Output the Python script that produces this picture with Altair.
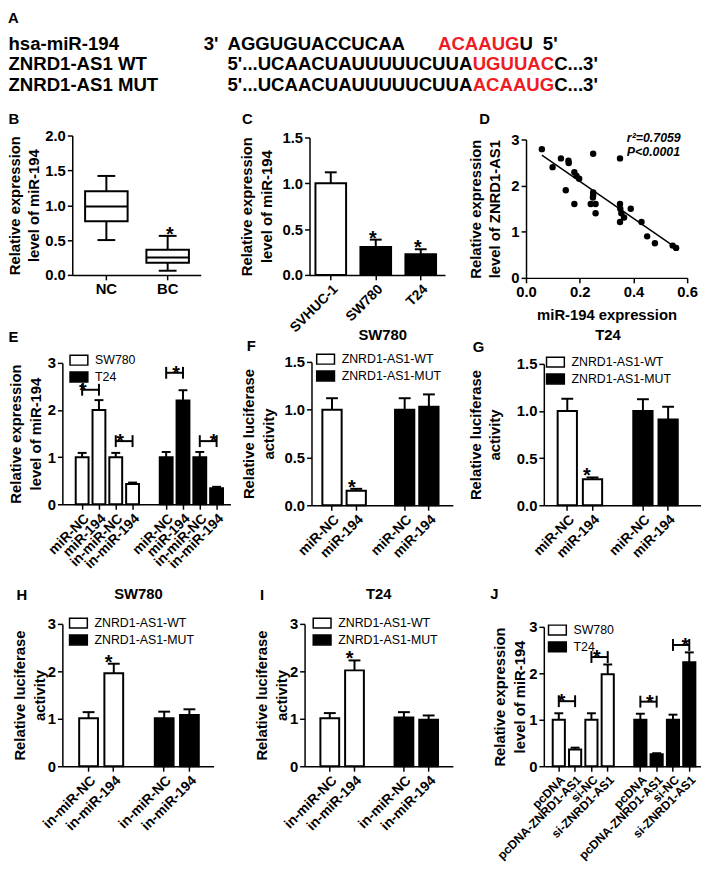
import altair as alt
import pandas as pd

# ---------------- values ----------------
# Panel A: sequences
A_names = ["hsa-miR-194", "ZNRD1-AS1 WT", "ZNRD1-AS1 MUT"]
A_mir = ["3'", "AGGUGUACCUCAA", "ACAAUG", "U", "5'"]
A_wt = ["5'...UCAACUAUUUUUCUUA", "UGUUAC", "C...3'"]
A_mut = ["5'...UCAACUAUUUUUCUUA", "ACAAUG", "C...3'"]

# Panel B: box plot summary
B_groups = ["NC", "BC"]
B_min = [0.50, 0.06]
B_q1 = [0.77, 0.175]
B_median = [0.98, 0.25]
B_q3 = [1.20, 0.36]
B_max = [1.42, 0.56]
B_sig = ["BC"]

# Panel C
C_cells = ["SVHUC-1", "SW780", "T24"]
C_kind = ["normal", "cancer", "cancer"]
C_mean = [1.00, 0.305, 0.227]
C_upper = [1.12, 0.385, 0.280]
C_sig = ["SW780", "T24"]

# Panel D
D_mir = [0.059, 0.099, 0.130, 0.158, 0.159, 0.148, 0.180, 0.188, 0.198, 0.180,
         0.250, 0.250, 0.250, 0.249, 0.241, 0.259, 0.259, 0.350, 0.350, 0.351,
         0.355, 0.365, 0.350, 0.390, 0.430, 0.451, 0.480, 0.546, 0.559]
D_znrd = [2.79, 2.40, 2.59, 2.54, 2.49, 1.90, 2.29, 2.21, 2.15, 1.60,
          2.69, 1.85, 1.79, 1.74, 1.60, 1.60, 1.40, 2.59, 1.60, 1.50,
          1.40, 1.31, 1.21, 1.50, 1.21, 0.90, 0.75, 0.70, 0.65]
D_stats = ["r\u00b2=0.7059", "P<0.0001"]

# Panel E
E_line = ["SW780"] * 4 + ["T24"] * 4
E_treat = ["miR-NC", "miR-194", "in-miR-NC", "in-miR-194"] * 2
E_mean = [1.00, 2.00, 1.00, 0.43, 1.00, 2.20, 1.00, 0.34]
E_upper = [1.09, 2.21, 1.09, 0.46, 1.11, 2.42, 1.11, 0.37]
E_br_from = [0, 2, 4, 6]
E_br_to = [1, 3, 5, 7]
E_br_y = [2.43, 1.34, 2.79, 1.34]

# Panels F-I (luciferase)
LUC_rep = ["ZNRD1-AS1-WT"] * 2 + ["ZNRD1-AS1-MUT"] * 2
FG_treat = ["miR-NC", "miR-194"] * 2
F_mean = [1.00, 0.152, 1.00, 1.03]
F_upper = [1.12, 0.172, 1.12, 1.16]
G_mean = [1.00, 0.277, 1.00, 0.91]
G_upper = [1.13, 0.295, 1.125, 1.045]
HI_treat = ["in-miR-NC", "in-miR-194"] * 2
H_mean = [1.01, 1.96, 1.01, 1.08]
H_upper = [1.14, 2.16, 1.15, 1.20]
I_mean = [1.01, 2.02, 1.03, 0.98]
I_upper = [1.12, 2.23, 1.14, 1.07]
LUC_sig = [1]

# Panel J
J_line = ["SW780"] * 4 + ["T24"] * 4
J_treat = ["pcDNA", "pcDNA-ZNRD1-AS1", "si-NC", "si-ZNRD1-AS1"] * 2
J_mean = [1.00, 0.36, 1.00, 1.98, 1.00, 0.26, 1.00, 2.24]
J_upper = [1.14, 0.40, 1.14, 2.19, 1.13, 0.28, 1.11, 2.45]
J_br_from = [0, 2, 4, 6]
J_br_to = [1, 3, 5, 7]
J_br_y = [1.40, 2.35, 1.39, 2.61]

# ---------------- layout helpers ----------------
FONT = "Liberation Sans"
CW, CH = 701, 865
SHIFT_X, SHIFT_Y = 5, 5
RECT = "M-1.8,-1H1.8V1H-1.8Z"


def X(v):
    return v - SHIFT_X


def Y(v):
    return v - SHIFT_Y


def band_scale(domain, x0, x1, step, bw, lead):
    W = x1 - x0
    n = len(domain)
    pi = 1 - bw / step
    total = step * (n - pi)
    space = W - total
    return alt.Scale(domain=domain, range=[X(x0), X(x1)], paddingInner=round(pi, 4),
                     paddingOuter=round(space / (2 * step), 4), align=round(lead / space, 4))


def lin_y(ymax, ytop, ybot):
    return alt.Scale(domain=[0, ymax], range=[Y(ybot), Y(ytop)], nice=False, zero=False)


def left_axis(x0, vals, fmt, title, tp):
    return alt.Axis(orient="left", offset=-X(x0), values=vals, format=fmt, title=title,
                    titlePadding=tp)


def bottom_axis(ybot, **kw):
    return alt.Axis(orient="bottom", offset=Y(ybot) - CH, **kw)


def label(text, x, y, size=15, weight="bold", color="black", align="center", style="normal"):
    return alt.Chart(pd.DataFrame({"t": [text]})).mark_text(
        font=FONT, fontSize=size, fontWeight=weight, color=color, align=align,
        baseline="middle", fontStyle=style
    ).encode(text="t:N", x=alt.value(X(x)), y=alt.value(Y(y)))


def make_legend(cx, cy):
    return alt.Legend(orient="none", legendX=X(cx - 5), legendY=Y(cy - 6), title=None,
                      symbolType=RECT, symbolSize=100, symbolStrokeColor="black",
                      symbolStrokeWidth=1.5, symbolOpacity=1, labelFont=FONT, labelFontSize=12.5,
                      labelFontWeight="normal", labelOffset=10, rowPadding=0, padding=0)


layers = []

# ---------------- Panel A ----------------
layers.append(label("A", 10.5, 10))
row_y = [36, 57, 78]
for name, yy in zip(A_names, row_y):
    layers.append(label(name, 5.5, yy, size=18.8, align="left"))
mir_x = [203, 227, 440, 522.5, 546]
mir_col = ["black", "black", "#ee1c24", "black", "black"]
for t, xx, c in zip(A_mir, mir_x, mir_col):
    layers.append(label(t, xx, row_y[0], size=18.8, align="left", color=c))
seq_x = [227, 475, 557.5]
seq_col = ["black", "#ee1c24", "black"]
for seq, yy in ((A_wt, row_y[1]), (A_mut, row_y[2])):
    for t, xx, c in zip(seq, seq_x, seq_col):
        layers.append(label(t, xx, yy, size=18.8, align="left", color=c))

# ---------------- Panel B (box plot) ----------------
bx0, bx1, byt, byb = 70, 200, 129, 270
bdf = pd.DataFrame({"g": B_groups, "lo": B_min, "q1": B_q1, "med": B_median,
                    "q3": B_q3, "hi": B_max})
bxs = band_scale(B_groups, bx0, bx1, 62, 43, 13)
bys = lin_y(2.0, byt, byb)
bX = lambda ax=None: alt.X("g:N", scale=bxs, axis=ax)
bbase = alt.Chart(bdf)
layers += [
    bbase.mark_rule(color="black", strokeWidth=2).encode(
        x=bX(), y=alt.Y("lo:Q", scale=bys, axis=None), y2="q1:Q"),
    bbase.mark_rule(color="black", strokeWidth=2).encode(
        x=bX(), y=alt.Y("q3:Q", scale=bys, axis=None), y2="hi:Q"),
    bbase.mark_bar(fill="white", stroke="black", strokeWidth=2, opacity=1).encode(
        x=bX(bottom_axis(byb, title=None, labelAngle=0, labelFontSize=15)),
        y=alt.Y("q1:Q", scale=bys,
                axis=left_axis(bx0, [0, 0.5, 1.0, 1.5, 2.0], ".1f",
                               ["Relative expression", "level of miR-194"], 3)),
        y2="q3:Q"),
    bbase.mark_tick(color="black", thickness=2, size=43, opacity=1).encode(
        x=bX(), y=alt.Y("med:Q", scale=bys, axis=None)),
    bbase.mark_tick(color="black", thickness=2, size=18, opacity=1).encode(
        x=bX(), y=alt.Y("lo:Q", scale=bys, axis=None)),
    bbase.mark_tick(color="black", thickness=2, size=18, opacity=1).encode(
        x=bX(), y=alt.Y("hi:Q", scale=bys, axis=None)),
    alt.Chart(bdf[bdf.g.isin(B_sig)]).mark_text(
        text="*", font=FONT, fontSize=20, fontWeight="bold", baseline="alphabetic", dy=5,
        color="black").encode(x=bX(), y=alt.Y("hi:Q", scale=bys, axis=None)),
]
layers.append(label("B", 11, 112))


# ---------------- generic bar panel ----------------
def bar_panel(keys, fills, fill_dom, means, uppers, domain, box, band, yspec,
              legend=None, star_idx=(), brackets=None, split=True, label_size=14):
    x0, x1, ytop, ybot = box
    step, bw, lead, cap = band
    ymax, yvals, yfmt, ytitle, tp = yspec
    df = pd.DataFrame({"key": keys, "fill": fills, "mean": means, "upper": uppers})
    xs = band_scale(domain, x0, x1, step, bw, lead)
    ys = lin_y(ymax, ytop, ybot)
    ax_kw = dict(values=keys, title=None, labelAngle=-45, labelFontSize=label_size)
    if split:
        ax_kw["labelExpr"] = "split(datum.value, '|')[1]"
    out = []
    base = alt.Chart(df)
    out.append(base.mark_bar(stroke="black", strokeWidth=2, opacity=1).encode(
        x=alt.X("key:N", scale=xs, axis=bottom_axis(ybot, **ax_kw)),
        y=alt.Y("mean:Q", scale=ys, axis=left_axis(x0, yvals, yfmt, ytitle, tp)),
        fill=alt.Fill("fill:N", scale=alt.Scale(domain=fill_dom, range=["white", "black"]),
                      legend=legend)))
    out.append(base.mark_rule(color="black", strokeWidth=2).encode(
        x=alt.X("key:N", scale=xs, axis=None),
        y=alt.Y("mean:Q", scale=ys, axis=None), y2="upper:Q"))
    out.append(base.mark_tick(color="black", thickness=2, size=cap, opacity=1).encode(
        x=alt.X("key:N", scale=xs, axis=None),
        y=alt.Y("upper:Q", scale=ys, axis=None)))
    if len(star_idx):
        sdf = df.iloc[list(star_idx)]
        out.append(alt.Chart(sdf).mark_text(
            text="*", font=FONT, fontSize=20, fontWeight="bold", baseline="alphabetic",
            dy=5, color="black").encode(
            x=alt.X("key:N", scale=xs, axis=None),
            y=alt.Y("upper:Q", scale=ys, axis=None)))
    if brackets is not None:
        bf, bt, by = brackets
        brdf = pd.DataFrame({"k1": [keys[i] for i in bf], "k2": [keys[i] for i in bt], "y": by})
        bb = alt.Chart(brdf)
        out.append(bb.mark_rule(color="black", strokeWidth=2).encode(
            x=alt.X("k1:N", scale=xs, axis=None, bandPosition=0.5),
            x2=alt.X2("k2", bandPosition=0.5),
            y=alt.Y("y:Q", scale=ys, axis=None)))
        for k in ("k1", "k2"):
            out.append(bb.mark_tick(orient="vertical", color="black", thickness=2, size=12,
                                    opacity=1).encode(
                x=alt.X(k + ":N", scale=xs, axis=None),
                y=alt.Y("y:Q", scale=ys, axis=None)))
        out.append(bb.mark_text(text="*", font=FONT, fontSize=20, fontWeight="bold",
                                baseline="alphabetic", dy=7, dx=step / 2,
                                color="black").encode(
            x=alt.X("k1:N", scale=xs, axis=None),
            y=alt.Y("y:Q", scale=ys, axis=None)))
    return out


def with_gap(keys):
    h = len(keys) // 2
    return keys[:h] + ["gap"] + keys[h:]


# ---------------- Panel C ----------------
layers += bar_panel(C_cells, C_kind, ["normal", "cancer"], C_mean, C_upper, C_cells,
                    (310, 447, 131, 270), (45.5, 31, 6, 12),
                    (1.5, [0, 0.5, 1.0, 1.5], ".1f", ["Relative expression", "level of miR-194"], 7.6),
                    star_idx=[C_cells.index(c) for c in C_sig], split=False)
layers.append(label("C", 247, 112))

# ---------------- Panel D (scatter + regression) ----------------
ddf = pd.DataFrame({"mir": D_mir, "znrd": D_znrd})
dxs = alt.Scale(domain=[0, 0.6], range=[X(529), X(692)], nice=False, zero=False)
dys = lin_y(3, 133, 273)
layers += [
    alt.Chart(ddf).mark_circle(size=42, color="black", opacity=1).encode(
        x=alt.X("mir:Q", scale=dxs,
                axis=bottom_axis(273, values=[0, 0.2, 0.4, 0.6], format=".1f",
                                 title="miR-194 expression", titlePadding=8)),
        y=alt.Y("znrd:Q", scale=dys,
                axis=left_axis(529, [0, 1, 2, 3], "d",
                               ["Relative expression", "level of ZNRD1-AS1"], 8))),
    alt.Chart(ddf).transform_regression("mir", "znrd").mark_line(
        color="black", strokeWidth=1.5).encode(
        x=alt.X("mir:Q", scale=dxs, axis=None), y=alt.Y("znrd:Q", scale=dys, axis=None)),
]
layers.append(label(D_stats[0], 631, 132, size=12.5, align="left", style="italic"))
layers.append(label(D_stats[1], 631, 146, size=12.5, align="left", style="italic"))
layers.append(label("D", 487, 112))

# ---------------- Panel E ----------------
E_keys = [f"{a}|{b}" for a, b in zip(E_line, E_treat)]
layers += bar_panel(E_keys, E_line, ["SW780", "T24"], E_mean, E_upper, with_gap(E_keys),
                    (60, 230, 359, 502), (17, 13, 13.5, 9),
                    (3, [0, 1, 2, 3], "d", ["Relative expression", "level of miR-194"], 4),
                    legend=make_legend(75.5, 356),
                    brackets=(E_br_from, E_br_to, E_br_y))
layers.append(label("E", 10.5, 333))

# ---------------- Panels F, G ----------------
FG_keys = [f"{a}|{b}" for a, b in zip(LUC_rep, FG_treat)]
REP_DOM = ["ZNRD1-AS1-WT", "ZNRD1-AS1-MUT"]
layers += bar_panel(FG_keys, LUC_rep, REP_DOM, F_mean, F_upper, with_gap(FG_keys),
                    (312, 455, 358, 503), (24.5, 19.5, 11, 12),
                    (1.5, [0, 0.5, 1.0, 1.5], ".1f", ["Relative  luciferase", "activity"], 7.6),
                    legend=make_legend(325, 355), star_idx=LUC_sig)
layers.append(label("F", 251, 342))
layers.append(label("SW780", 384, 331))

layers += bar_panel(FG_keys, LUC_rep, REP_DOM, G_mean, G_upper, with_gap(FG_keys),
                    (547, 708, 360, 503), (25.5, 19.5, 14, 12),
                    (1.5, [0, 0.5, 1.0, 1.5], ".1f", ["Relative  luciferase", "activity"], 13.6),
                    legend=make_legend(557.5, 358), star_idx=LUC_sig)
layers.append(label("G", 481, 343))
layers.append(label("T24", 612, 331))

# ---------------- Panels H, I ----------------
HI_keys = [f"{a}|{b}" for a, b in zip(LUC_rep, HI_treat)]
layers += bar_panel(HI_keys, LUC_rep, REP_DOM, H_mean, H_upper, with_gap(HI_keys),
                    (60, 213, 623, 767), (25.5, 19, 17, 12),
                    (3, [0, 1, 2, 3], "d", ["Relative  luciferase", "activity"], 0),
                    legend=make_legend(75, 622), star_idx=LUC_sig)
layers.append(label("H", 19, 594))
layers.append(label("SW780", 137, 593))

layers += bar_panel(HI_keys, LUC_rep, REP_DOM, I_mean, I_upper, with_gap(HI_keys),
                    (305, 455, 623, 767), (25, 19, 16, 12),
                    (3, [0, 1, 2, 3], "d", ["Relative  luciferase", "activity"], 0),
                    legend=make_legend(321.5, 622), star_idx=LUC_sig)
layers.append(label("I", 262, 594))
layers.append(label("T24", 380, 593))

# ---------------- Panel J ----------------
J_keys = [f"{a}|{b}" for a, b in zip(J_line, J_treat)]
layers += bar_panel(J_keys, J_line, ["SW780", "T24"], J_mean, J_upper, with_gap(J_keys),
                    (547, 708, 626, 767), (16.5, 12.3, 9, 9),
                    (3, [0, 1, 2, 3], "d", ["Relative expression", "level of miR-194"], 1),
                    legend=make_legend(559.5, 629),
                    brackets=(J_br_from, J_br_to, J_br_y), label_size=12.3)
layers.append(label("J", 497, 593))

# ---------------- assemble ----------------
chart = alt.layer(*layers).resolve_scale(
    x="independent", y="independent", fill="independent"
).resolve_axis(x="independent", y="independent").resolve_legend(
    fill="independent"
).properties(
    width=CW, height=CH, padding=0, autosize=alt.AutoSizeParams(type="none"),
    background="white"
).configure_view(stroke=None).configure_axis(
    grid=False, labelFont=FONT, titleFont=FONT, labelFontWeight="bold",
    titleFontWeight="bold", labelFontSize=15, titleFontSize=15, labelColor="black",
    titleColor="black", domainColor="black", tickColor="black", domainWidth=1.5,
    tickWidth=1.5, tickSize=5, labelPadding=2, labelFlush=False, labelOverlap=False,
    minExtent=0, titleLineHeight=20
)

chart.save("out.html", embed_options={"renderer": "svg", "actions": False})
